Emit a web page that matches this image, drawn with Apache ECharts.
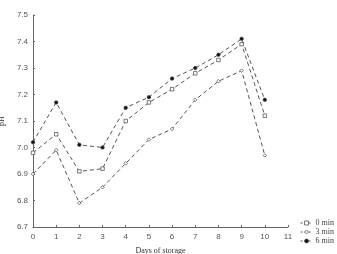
<!DOCTYPE html>
<html>
<head>
<meta charset="utf-8">
<script src="https://cdn.jsdelivr.net/npm/echarts@6/dist/echarts.min.js"></script>
<style>
  html, body { margin: 0; padding: 0; background: #fff; }
  #chart { width: 337px; height: 254px; }
</style>
</head>
<body>
<div id="chart"></div>
<script>
// days of storage
var days = [0, 1, 2, 3, 4, 5, 6, 7, 8, 9, 10];
// pH per treatment time
var ph0min = [6.98, 7.05, 6.91, 6.92, 7.10, 7.17, 7.22, 7.28, 7.33, 7.39, 7.12];
var ph3min = [6.90, 6.99, 6.79, 6.85, 6.94, 7.03, 7.07, 7.18, 7.25, 7.29, 6.97];
var ph6min = [7.02, 7.17, 7.01, 7.00, 7.15, 7.19, 7.26, 7.30, 7.35, 7.41, 7.18];
var seriesNames = ['0 min', '3 min', '6 min'];
var symbols = ['rect', 'diamond', 'circle'];
var filled = [false, false, true];

var chart = echarts.init(document.getElementById('chart'));

function pairs(vals) {
  return days.map(function (d, i) { return [d, vals[i]]; });
}

function markStyle(i) {
  return { color: filled[i] ? '#111' : '#fff', borderColor: '#444', borderWidth: 0.7 };
}

function makeSeries(i, vals) {
  return {
    name: seriesNames[i],
    type: 'line',
    data: pairs(vals),
    symbol: symbols[i],
    symbolSize: 3.5,
    showSymbol: true,
    lineStyle: { color: '#555', width: 1, type: [4, 3] },
    itemStyle: markStyle(i),
    emphasis: { disabled: true },
    animation: false
  };
}

var axisStyle = { color: '#555', fontSize: 8, fontFamily: 'Liberation Sans' };

chart.setOption({
  animation: false,
  textStyle: { fontFamily: 'Liberation Serif' },
  grid: { left: 33, right: 49, top: 15, bottom: 27, containLabel: false, outerBoundsMode: 'none' },
  legend: {
    orient: 'vertical',
    right: 3,
    bottom: 9,
    padding: 0,
    itemWidth: 12,
    itemHeight: 5,
    itemGap: 1,
    lineStyle: { type: [2, 2], width: 1, color: '#555' },
    itemStyle: { borderWidth: 0.6, borderColor: '#444' },
    textStyle: { fontSize: 8, color: '#444', fontFamily: 'Liberation Serif', padding: [0, 0, 0, -2] },
    data: seriesNames.map(function (n, i) {
      return { name: n, itemStyle: markStyle(i) };
    })
  },
  xAxis: {
    type: 'value',
    min: 0,
    max: 11,
    interval: 1,
    name: 'Days of storage',
    nameLocation: 'middle',
    nameGap: 20,
    nameTextStyle: { fontSize: 8, color: '#333', fontFamily: 'Liberation Serif' },
    axisLine: { lineStyle: { color: '#666', width: 1 } },
    axisTick: { inside: true, length: 2, lineStyle: { color: '#666' } },
    axisLabel: Object.assign({ margin: 6 }, axisStyle),
    splitLine: { show: false }
  },
  yAxis: {
    type: 'value',
    min: 6.7,
    max: 7.5,
    interval: 0.1,
    name: 'pH',
    nameLocation: 'middle',
    nameGap: 22,
    nameRotate: 90,
    nameTextStyle: { fontSize: 8, color: '#333', fontFamily: 'Liberation Serif' },
    axisLine: { show: true, lineStyle: { color: '#666', width: 1 } },
    axisTick: { show: true, inside: true, length: 2, lineStyle: { color: '#666' } },
    axisLabel: Object.assign({ margin: 5, formatter: function (v) { return v.toFixed(1); } }, axisStyle),
    splitLine: { show: false }
  },
  series: [
    makeSeries(0, ph0min),
    makeSeries(1, ph3min),
    makeSeries(2, ph6min)
  ]
});
</script>
</body>
</html>
